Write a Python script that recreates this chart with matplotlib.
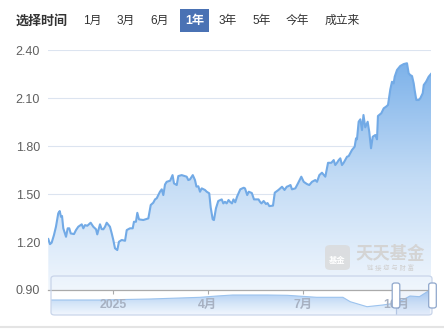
import matplotlib
matplotlib.use("Agg")
import matplotlib.pyplot as plt
import numpy as np
from matplotlib.patches import Polygon, Rectangle, FancyBboxPatch
from matplotlib.colors import LinearSegmentedColormap
from matplotlib.lines import Line2D

plt.rcParams['font.family'] = ['Liberation Sans', 'Noto Sans CJK SC', 'DejaVu Sans']

# ---------------- data ----------------
days = [0, 1.6, 3.2, 5.4, 7.3, 9.5, 10.9, 12.1, 13.1, 14.3, 16.9, 18.5, 20, 21.4, 24.5, 26.4,
        28.6, 31.9, 33.4, 35, 37.2, 40.4, 42.9, 45.5, 46.7, 49.3, 50.9, 52.5, 54.1, 55.7, 58.8,
        60.5, 62, 63.6, 65.8, 67.4, 70, 73.2, 74.8, 77.9, 80.5, 81.7, 83.6, 84.9, 86.5, 90.6,
        95.4, 97.7, 100.1, 101.8, 103.4, 104.9, 106.5, 108.2, 109.7, 111.3, 112.9, 116.2, 118.5,
        119.9, 122.5, 124, 127.2, 132, 133.5, 135.1, 137.8, 139.9, 141.3, 143.1, 144.7, 146.3,
        149.4, 151.1, 153.5, 154.9, 156.8, 158, 159.9, 162.1, 165.4, 166.9, 168.5, 170.1, 171.9,
        173.3, 175.2, 176.6, 178.3, 180, 181.4, 183.1, 186.4, 187.6, 189.7, 191.2, 194.1, 196.2,
        200.5, 201.9, 203.3, 205.4, 207.6, 209.1, 210.8, 214.3, 216, 219.5, 222.9, 225.3, 227.4,
        229.3, 231, 232.4, 235.6, 238.1, 241.3, 243.6, 246.7, 248.9, 251.5, 254.6, 256.3, 258.5,
        261, 264.2, 266.8, 269.9, 272.2, 273.7, 275.3, 277, 278.5, 280.1, 281.7, 284.9, 286.5,
        289.6, 292.2, 293.5, 294.4, 296, 297.6, 299.2, 300.6, 302.3, 304.6, 306.1, 307.8, 309.4,
        311.9, 313.5, 314.4, 317.6, 319.9, 322.1, 324, 326.2, 327.8, 329.4, 330.4, 332.6, 335.7,
        339, 342.1, 343.7, 345.2, 346.9, 348.5, 349.4, 351, 353.3, 354.8, 357.1, 358.1, 360.3,
        362.8, 365]
nav = [1.219, 1.187, 1.196, 1.244, 1.296, 1.380, 1.394, 1.358, 1.363, 1.286, 1.233, 1.286, 1.286,
       1.254, 1.250, 1.275, 1.296, 1.311, 1.286, 1.306, 1.302, 1.321, 1.296, 1.280, 1.248, 1.311,
       1.281, 1.280, 1.296, 1.321, 1.296, 1.254, 1.213, 1.161, 1.150, 1.202, 1.213, 1.208, 1.275,
       1.286, 1.286, 1.327, 1.327, 1.383, 1.342, 1.338, 1.348, 1.432, 1.446, 1.467, 1.474, 1.494,
       1.515, 1.530, 1.494, 1.560, 1.577, 1.584, 1.619, 1.567, 1.557, 1.613, 1.619, 1.609, 1.588,
       1.592, 1.619, 1.588, 1.547, 1.549, 1.515, 1.536, 1.526, 1.515, 1.505, 1.416, 1.342, 1.338,
       1.411, 1.457, 1.467, 1.442, 1.452, 1.442, 1.463, 1.452, 1.442, 1.467, 1.449, 1.484, 1.505,
       1.530, 1.540, 1.536, 1.494, 1.515, 1.507, 1.467, 1.467, 1.452, 1.442, 1.457, 1.438, 1.444,
       1.425, 1.428, 1.509, 1.526, 1.546, 1.526, 1.546, 1.551, 1.557, 1.530, 1.536, 1.567, 1.609,
       1.577, 1.563, 1.557, 1.577, 1.588, 1.577, 1.619, 1.634, 1.609, 1.696, 1.696, 1.713, 1.682,
       1.696, 1.713, 1.724, 1.682, 1.696, 1.734, 1.738, 1.776, 1.797, 1.849, 1.843, 1.953, 1.968,
       1.901, 1.995, 1.918, 1.953, 1.890, 1.787, 1.859, 1.870, 1.843, 1.989, 2.006, 2.037, 2.047,
       2.058, 2.156, 2.203, 2.193, 2.235, 2.277, 2.302, 2.314, 2.319, 2.256, 2.245, 2.239, 2.193,
       2.151, 2.089, 2.089, 2.100, 2.131, 2.183, 2.203, 2.235, 2.252]

y_ticks = [0.90, 1.20, 1.50, 1.80, 2.10, 2.40]
y_labels = ["0.90", "1.20", "1.50", "1.80", "2.10", "2.40"]
x_tick_days = [62, 152, 243, 332]
x_tick_labels = ["2025", "4月", "7月", "10月"]

# overview series shown inside the range slider (relative height units)
mini_days = [2.6, 49, 97, 145, 161, 176, 209, 228, 256, 281, 288, 304, 319, 332, 335, 345, 354, 364]
mini_vals = [15, 15, 16, 17.7, 19, 20, 20, 19.7, 17.7, 17.7, 13.3, 8.3, 10, 12, 13.3, 19, 18.3, 25]

range_buttons = ["1月", "3月", "6月", "1年", "3年", "5年", "今年", "成立来"]
active_button = "1年"

# ---------------- figure ----------------
W, H = 444, 330
fig = plt.figure(figsize=(W / 100, H / 100), dpi=100)
fig.patch.set_facecolor("white")


def fx(px):
    return px / W


def fy(py):
    return 1 - py / H


def gradient_fill(axis, xs, ys, base, cmap, z=1):
    grad = np.linspace(0, 1, 256).reshape(-1, 1)
    im = axis.imshow(grad, extent=[min(xs), max(xs), base, max(ys)], origin="lower",
                     aspect="auto", cmap=cmap, zorder=z, interpolation="bilinear")
    verts = list(zip(xs, ys)) + [(xs[-1], base), (xs[0], base)]
    poly = Polygon(verts, closed=True, facecolor="none", edgecolor="none")
    axis.add_patch(poly)
    im.set_clip_path(poly)


# slider axes (drawn beneath the main axes)
sx0, sx1, sy0, sy1 = 51, 432, 276, 315
sax = fig.add_axes([fx(sx0), fy(sy1), (sx1 - sx0) / W, (sy1 - sy0) / H], zorder=0)
sax.set_facecolor("white")
mini_cmap = LinearSegmentedColormap.from_list("m", ["#f2f7fe", "#d2e4f8", "#a9cbf2"])
gradient_fill(sax, mini_days, mini_vals, 0, mini_cmap)
sax.plot(mini_days, mini_vals, color="#9cc3ee", lw=0.8, zorder=2)
sax.set_xlim(2.6, 366)
sax.set_ylim(0, 39)
for s in sax.spines.values():
    s.set_visible(False)
sax.set_xticks([])
sax.set_yticks([])
sax.add_patch(Rectangle((331.4, 0), 366 - 331.4, 39, facecolor=(0.55, 0.68, 0.9, 0.13),
                        edgecolor="none", zorder=3))
sax.axvline(331.4, color="#b3c5e2", lw=0.9, zorder=3)

# slider frame
fig.patches.append(FancyBboxPatch((fx(sx0), fy(sy1)), (sx1 - sx0) / W, (sy1 - sy0) / H,
                                  boxstyle="round,pad=0,rounding_size=0.008",
                                  transform=fig.transFigure, facecolor="none",
                                  edgecolor="#c9d5ea", lw=0.9, zorder=3))

# main axes
ax = fig.add_axes([fx(48.3), fy(290), (431 - 48.3) / W, (290 - 50.3) / H], zorder=1)
ax.patch.set_visible(False)
ax.set_xlim(0, 365)
ax.set_ylim(0.90, 2.40)

main_cmap = LinearSegmentedColormap.from_list("g", ["#f0f6fd", "#c2dbf5", "#7db2ea"])
gradient_fill(ax, days, nav, 0.90, main_cmap)
ax.plot(days, nav, color="#72aae6", lw=1.5, zorder=3, solid_joinstyle="round")

ax.set_yticks(y_ticks)
ax.set_yticklabels(y_labels)
ax.grid(axis="y", color="#dce4f0", lw=0.8)
ax.set_axisbelow(True)
for k in ["top", "right", "left"]:
    ax.spines[k].set_visible(False)
ax.spines["bottom"].set_color("#aaaaaa")
ax.spines["bottom"].set_linewidth(0.9)
ax.tick_params(axis="y", length=0, pad=6, labelsize=9, labelcolor="#606060")
ax.set_xticks(x_tick_days)
ax.set_xticklabels(x_tick_labels, fontweight="bold")
ax.tick_params(axis="x", length=3, width=0.8, color="#aaaaaa", pad=3.5, labelsize=8.8,
               labelcolor="#a7b1c2")

# slider handles
for cx in (396, 432.5):
    fig.patches.append(FancyBboxPatch((fx(cx - 3.8), fy(308)), 7.6 / W, 25 / H,
                                      boxstyle="round,pad=0,rounding_size=0.006",
                                      transform=fig.transFigure, facecolor="white",
                                      edgecolor="#8fa7cc", lw=0.9, zorder=5))

# watermark
fig.patches.append(FancyBboxPatch((fx(325), fy(270)), 25 / W, 25 / H,
                                  boxstyle="round,pad=0,rounding_size=0.012",
                                  transform=fig.transFigure, facecolor="#dadada",
                                  edgecolor="none", alpha=0.8, zorder=4))
fig.text(fx(337.5), fy(261), "基金", color="white", fontsize=6, fontweight="bold",
         ha="center", va="center", zorder=6)
fig.text(fx(390), fy(253.5), "天天基金", color="#d4d4d4", fontsize=12.5, fontweight="bold",
         ha="center", va="center", zorder=6)
fig.text(fx(390.5), fy(267.5), "链 接 您 与 财 富", color="#d0d0d0", fontsize=4.6,
         ha="center", va="center", zorder=6)

# top bar
fig.text(fx(16), fy(21), "选择时间", color="#333333", fontsize=9.4, fontweight="bold",
         ha="left", va="center")
btn_centers = [92.5, 125.5, 159.5, 194.5, 228, 261.5, 297.5, 342.5]
for lab, cx in zip(range_buttons, btn_centers):
    if lab == active_button:
        fig.patches.append(Rectangle((fx(180), fy(31.7)), 29 / W, 22.7 / H,
                                     transform=fig.transFigure, facecolor="#4a72b4",
                                     edgecolor="none"))
        fig.text(fx(cx), fy(21), lab, color="white", fontsize=8.8, fontweight="bold",
                 ha="center", va="center")
    else:
        fig.text(fx(cx), fy(21), lab, color="#333333", fontsize=8.5,
                 ha="center", va="center")

# bottom separator
fig.lines.append(Line2D([0, 1], [fy(326.5), fy(326.5)], transform=fig.transFigure,
                        color="#e4e4e4", lw=1.5))

fig.savefig("out.png", dpi=100, facecolor="white")
